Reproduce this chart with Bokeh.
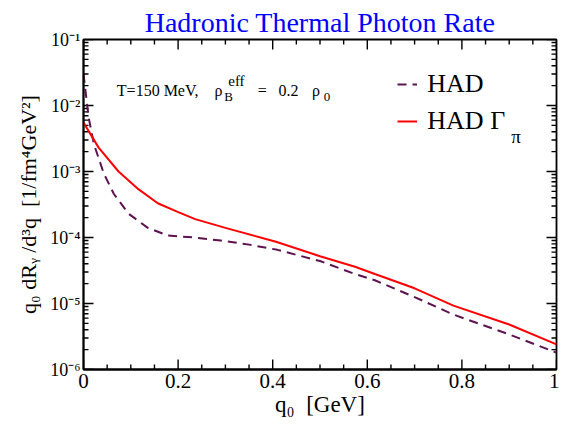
from bokeh.plotting import figure
from bokeh.models import Range1d, FixedTicker, Legend, LegendItem, Label, CustomJSTickFormatter
from bokeh.embed import file_html
from bokeh.resources import INLINE

# ---- data ----
q_had = [0.0, 0.011, 0.022, 0.043, 0.064, 0.095, 0.136, 0.178, 0.2, 0.234,
         0.29, 0.35, 0.41, 0.5, 0.574, 0.616, 0.7, 0.782, 0.9, 1.0]
rate_had = [3.0e-2, 6.5e-3, 2.6e-3, 9.3e-4, 4.6e-4, 2.3e-4, 1.4e-4, 1.07e-4, 1.04e-4, 1.0e-4,
            9.0e-5, 7.8e-5, 6.5e-5, 4.4e-5, 2.8e-5, 2.25e-5, 1.25e-5, 6.8e-6, 3.4e-6, 1.8e-6]

q_pi = [0.0, 0.032, 0.074, 0.116, 0.157, 0.199, 0.236, 0.3, 0.407, 0.5,
        0.574, 0.616, 0.7, 0.782, 0.9, 1.0]
rate_pi = [5.5e-3, 2.3e-3, 1.0e-3, 5.4e-4, 3.3e-4, 2.45e-4, 1.9e-4, 1.4e-4, 8.6e-5, 5.2e-5,
           3.6e-5, 2.8e-5, 1.7e-5, 9.3e-6, 4.8e-6, 2.4e-6]

x_ticks = [0.0, 0.2, 0.4, 0.6, 0.8, 1.0]
x_tick_labels = ["0", "0.2", "0.4", "0.6", "0.8", "1"]
x_minor = [0.05, 0.1, 0.15, 0.25, 0.3, 0.35, 0.45, 0.5, 0.55, 0.65, 0.7, 0.75, 0.85, 0.9, 0.95]
y_ticks = [1e-6, 1e-5, 1e-4, 1e-3, 1e-2, 1e-1]
y_tick_labels = ["10\u207b\u2076", "10\u207b\u2075", "10\u207b\u2074", "10\u207b\u00b3",
                 "10\u207b\u00b2", "10\u207b\u00b9"]
y_minor = [m * d for d in y_ticks[:-1] for m in range(2, 10)]

SERIF = "Liberation Serif"
PURPLE = "#5c1350"
RED = "#ff0000"

W, H = 559, 419
SX, SY = W / 567, H / 427          # reference picture -> canvas
FL, FT, FR, FB = 83, 39, 556, 370   # frame edges on the canvas
XMIN, XMAX, YMIN, YMAX = 0.0, 1.0, 1e-6, 1e-1

p = figure(width=W, height=H, y_axis_type="log",
           x_range=Range1d(XMIN, XMAX), y_range=Range1d(YMIN, YMAX),
           output_backend="svg", toolbar_location=None,
           min_border_left=FL, min_border_right=W - FR, min_border_top=FT,
           min_border_bottom=H - FB,
           background_fill_color="white", border_fill_color="white")

p.grid.visible = False
p.outline_line_color = "black"
p.outline_line_width = 1.8

p.title.text = "Hadronic Thermal Photon Rate"
p.title.text_font = SERIF
p.title.text_font_size = "28px"
p.title.text_font_style = "normal"
p.title.text_color = "#0000ff"
p.title.align = "center"
p.title.standoff = 3

xfmt = CustomJSTickFormatter(args=dict(tvals=x_ticks, labs=x_tick_labels), code="""
let b = 0;
for (let i = 0; i < tvals.length; i++) { if (Math.abs(tvals[i] - tick) < Math.abs(tvals[b] - tick)) b = i; }
return labs[b];
""")
yfmt = CustomJSTickFormatter(args=dict(tvals=y_ticks, labs=y_tick_labels), code="""
const e = Math.log10(tick);
let b = 0;
for (let i = 0; i < tvals.length; i++) { if (Math.abs(Math.log10(tvals[i]) - e) < Math.abs(Math.log10(tvals[b]) - e)) b = i; }
return labs[b];
""")

for ax in (p.xaxis[0], p.yaxis[0]):
    ax.axis_line_color = "black"
    ax.axis_line_width = 1.8
    ax.major_tick_in = 0
    ax.major_tick_out = 0
    ax.minor_tick_in = 0
    ax.minor_tick_out = 0
    ax.major_label_text_font = SERIF
    ax.major_label_text_color = "black"
    ax.major_label_standoff = 4
    ax.axis_label_text_font = SERIF
    ax.axis_label_text_font_size = "23px"
    ax.axis_label_text_font_style = "normal"
    ax.axis_label_text_color = "black"

xa = p.xaxis[0]
xa.ticker = FixedTicker(ticks=x_ticks)
xa.formatter = xfmt
xa.major_label_text_font_size = "21px"
xa.axis_label = "q\u2080\u00a0\u00a0[GeV]"
xa.axis_label_standoff = 1

ya = p.yaxis[0]
ya.ticker = FixedTicker(ticks=y_ticks)
ya.formatter = yfmt
ya.major_label_text_font_size = "18px"
ya.major_label_standoff = 3
ya.axis_label = "q\u2080 dR\u1d67 /d\u00b3q\u00a0\u00a0[1/fm\u2074GeV\u00b2]"
ya.axis_label_text_font_size = "22px"
ya.axis_label_standoff = 6

# inward ticks on all four sides, drawn as one broken line (NaN gaps);
# tick lengths are given in pixels and converted to data units
DX = (XMAX - XMIN) / (FR - FL)          # data units per pixel along x
DEC = 5.0 / (FB - FT)                   # decades per pixel along y
NAN = float("nan")
tick_x, tick_y = [], []

def ticks_x(vals, L):
    f = 10 ** (L * DEC)
    for v in vals:
        tick_x.extend([v, v, NAN, v, v, NAN])
        tick_y.extend([YMIN, YMIN * f, NAN, YMAX, YMAX / f, NAN])

def ticks_y(vals, L):
    for v in vals:
        tick_x.extend([XMIN, XMIN + L * DX, NAN, XMAX, XMAX - L * DX, NAN])
        tick_y.extend([v, v, NAN, v, v, NAN])

ticks_x(x_ticks, 10)
ticks_x(x_minor, 5)
ticks_y(y_ticks, 10)
ticks_y(y_minor, 5)
p.line(tick_x, tick_y, line_color="black", line_width=1.4)

r_had = p.line(q_had, rate_had, line_color=PURPLE, line_width=2, line_dash="9 6")
r_pi = p.line(q_pi, rate_pi, line_color=RED, line_width=2)

legend = Legend(items=[LegendItem(label="HAD", renderers=[r_had]),
                       LegendItem(label="HAD \u0393", renderers=[r_pi])],
                location=(403 * SX - FL, FB - 140 * SY), border_line_color=None,
                background_fill_alpha=0, padding=0, margin=0, spacing=7,
                glyph_width=20, glyph_height=30, label_height=30, label_standoff=10,
                label_text_font=SERIF, label_text_font_size="26px", label_text_color="black")
p.add_layout(legend)

def lab(px, py, text, size):
    """px, py: position (baseline start) in reference-picture pixels."""
    p.add_layout(Label(x=px * SX - FL, y=FB - py * SY, x_units="screen", y_units="screen",
                       text=text, text_font=SERIF, text_font_size=size, text_color="black",
                       text_baseline="alphabetic", text_align="left"))

# legend subscript
lab(518, 140, "\u03c0", "19px")

# annotation: T=150 MeV,  rho_B^eff = 0.2 rho_0
lab(118, 93, "T=150 MeV,", "16px")
lab(217, 93, "\u03c1", "16px")
lab(227, 99, "B", "13px")
lab(231, 83, "eff", "15px")
lab(261, 93, "=", "16px")
lab(282, 93, "0.2", "16px")
lab(316, 93, "\u03c1", "16px")
lab(328, 99, "0", "13px")

open("out.html", "w").write(file_html(p, INLINE))
